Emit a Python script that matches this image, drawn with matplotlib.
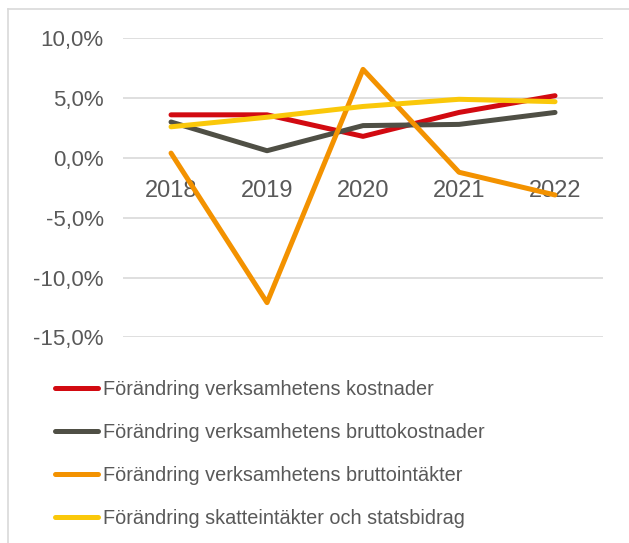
import matplotlib.pyplot as plt
from matplotlib.lines import Line2D
from matplotlib.ticker import FuncFormatter

plt.rcParams['font.family'] = ['Liberation Sans', 'DejaVu Sans']

years = ['2018', '2019', '2020', '2021', '2022']
kostnader = [3.6, 3.6, 1.8, 3.8, 5.2]
bruttokostnader = [3.0, 0.6, 2.7, 2.8, 3.8]
bruttointakter = [0.4, -12.1, 7.4, -1.2, -3.1]
skatteintakter = [2.6, 3.4, 4.3, 4.9, 4.7]

series = [
    ('Förändring verksamhetens kostnader', kostnader, '#d20a11'),
    ('Förändring verksamhetens bruttokostnader', bruttokostnader, '#4f4f45'),
    ('Förändring verksamhetens bruttointäkter', bruttointakter, '#f39200'),
    ('Förändring skatteintäkter och statsbidrag', skatteintakter, '#fac80a'),
]

textfarg = '#595959'

fig = plt.figure(figsize=(6.29, 5.43), dpi=100)
ax = fig.add_axes([0.1956, 0.3788, 0.7631, 0.5507])

x = list(range(len(years)))
for namn, varden, farg in series:
    ax.plot(x, varden, color=farg, lw=3.6, solid_capstyle='round',
            solid_joinstyle='round', label=namn)

ax.set_xlim(-0.5, len(years) - 0.5)
ax.set_ylim(-15, 10)
ax.set_yticks([-15, -10, -5, 0, 5, 10])
ax.yaxis.set_major_formatter(FuncFormatter(lambda v, p: f'{v:.1f}%'.replace('.', ',')))
ax.set_xticks(x)
ax.set_xticklabels(years)

ax.grid(axis='y', color='#d9d9d9', lw=1.2, zorder=0)
ax.set_axisbelow(True)
for s in ['top', 'right', 'left']:
    ax.spines[s].set_visible(False)
ax.spines['bottom'].set_position(('data', 0))
ax.spines['bottom'].set_visible(False)
ax.tick_params(axis='both', length=0, colors=textfarg)
ax.tick_params(axis='y', pad=14, labelsize=16)
ax.tick_params(axis='x', pad=16, labelsize=17)

handles = [Line2D([], [], color=f, lw=3.6, solid_capstyle='round') for _, _, f in series]
fig.legend(handles, [s[0] for s in series], loc='upper left',
           bbox_to_anchor=(0.087, 0.300), frameon=False, fontsize=14.3,
           labelcolor=textfarg, handlelength=2.2, handletextpad=0.25,
           labelspacing=1.2, borderaxespad=0, borderpad=0)

# ram upptill och till vänster
fig.add_artist(Line2D([0.0127, 1.0], [0.9834, 0.9834], color='#d9d9d9', lw=1.2))
fig.add_artist(Line2D([0.0127, 0.0127], [0.0, 0.9834], color='#d9d9d9', lw=1.2))

fig.savefig('out.png', dpi=100)
